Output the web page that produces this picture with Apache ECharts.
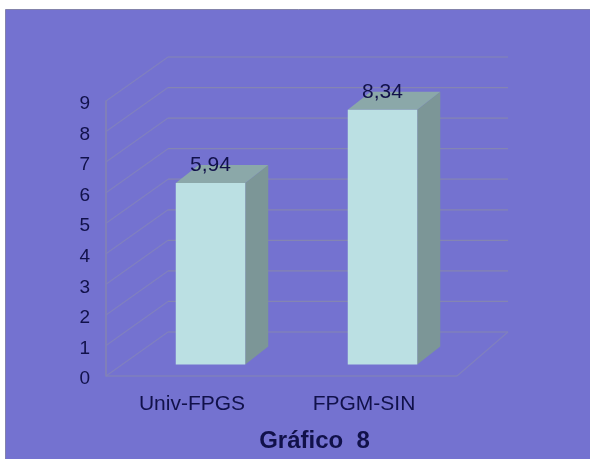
<!DOCTYPE html>
<html>
<head>
<meta charset="utf-8">
<style>html,body{margin:0;padding:0;background:#fff}#chart{width:590px;height:459px}</style>
<script src="https://cdn.jsdelivr.net/npm/echarts@6/dist/echarts.min.js"></script>
</head>
<body>
<div id="chart"></div>
<script>
// Chart content
const categories = ['Univ-FPGS', 'FPGM-SIN'];
const values = [5.94, 8.34];
const yTicks = [0, 1, 2, 3, 4, 5, 6, 7, 8, 9];
const chartTitle = 'Gráfico  8';

// Oblique projection of the pseudo-3D box, in pixels
const WALL_DX = 62, WALL_DY = -44;
const FLOOR_FRONT_EXTRA = 7;
const BACK_WALL_EXTRA = 58;
const BAR_OFFSET_DX = 18.5, BAR_OFFSET_DY = -11.5;
const BAR_DEPTH_DX = 23, BAR_DEPTH_DY = -18;
const BAR_BAND_RATIO = 0.404;

const INK = '#11114a';
const GRID = '#8485b2';
const DIAGONAL = '#8080bf';
const PLATE = '#7472d0';

function poly(points, fill) {
  return { type: 'polygon', shape: { points }, style: { fill, stroke: null } };
}
function seg(x1, y1, x2, y2, stroke) {
  return { type: 'line', shape: { x1, y1, x2, y2 }, style: { stroke, lineWidth: 1.2, fill: null } };
}

// One side-wall diagonal plus one back-wall rule for each tick; floor edges at zero
function renderWall(params, api) {
  const rect = params.coordSys;
  const y = api.coord([0, api.value(0)])[1];
  const xl = rect.x, xr = rect.x + rect.width;
  const children = [
    seg(xl, y, xl + WALL_DX, y + WALL_DY, DIAGONAL),
    seg(xl + WALL_DX, y + WALL_DY, xr + BACK_WALL_EXTRA, y + WALL_DY, GRID)
  ];
  if (api.value(0) === 0) {
    children.push(seg(xl, y, xr + FLOOR_FRONT_EXTRA, y, GRID));
    children.push(seg(xr + FLOOR_FRONT_EXTRA, y, xr + BACK_WALL_EXTRA, y + WALL_DY, DIAGONAL));
  }
  return { type: 'group', children };
}

function renderBar(params, api) {
  const base = api.coord([api.value(0), 0]);
  const top = api.coord([api.value(0), api.value(1)]);
  const w = api.size([1, 0])[0] * BAR_BAND_RATIO;
  const xl = base[0] - w / 2 + BAR_OFFSET_DX;
  const xr = xl + w;
  const yb = base[1] + BAR_OFFSET_DY;
  const yt = top[1] + BAR_OFFSET_DY;
  const dx = BAR_DEPTH_DX, dy = BAR_DEPTH_DY;
  return {
    type: 'group',
    children: [
      poly([[xr, yt], [xr + dx, yt + dy], [xr + dx, yb + dy], [xr, yb]], '#7c9697'),
      poly([[xl, yt], [xl + dx, yt + dy], [xr + dx, yt + dy], [xr, yt]], '#8ba8a9'),
      poly([[xl, yt], [xr, yt], [xr, yb], [xl, yb]], '#bbe0e3'),
      {
        type: 'text',
        style: {
          x: (xl + xr) / 2,
          y: yt - 17.5,
          text: api.value(1).toFixed(2).replace('.', ','),
          fill: INK,
          font: '21px "Liberation Sans", Arial, sans-serif',
          align: 'center',
          verticalAlign: 'middle'
        }
      }
    ]
  };
}

const chart = echarts.init(document.getElementById('chart'), null, { renderer: 'canvas' });
chart.setOption({
  animation: false,
  backgroundColor: '#ffffff',
  textStyle: { fontFamily: '"Liberation Sans", Arial, sans-serif' },
  graphic: [{
    type: 'rect',
    z: -10,
    shape: { x: 5.5, y: 9.5, width: 590, height: 459 },
    style: { fill: PLATE, stroke: '#8383ab', lineWidth: 1 }
  }],
  title: {
    text: chartTitle,
    left: 309.5,
    top: 436,
    textAlign: 'center',
    textVerticalAlign: 'middle',
    textStyle: { color: INK, fontSize: 24, fontWeight: 'bold', fontFamily: '"Liberation Sans", Arial, sans-serif' }
  },
  grid: { left: 106, right: 140, top: 101, bottom: 83 },
  xAxis: {
    type: 'category',
    data: categories,
    axisLine: { show: false },
    axisTick: { show: false },
    axisLabel: { color: INK, fontSize: 21, margin: 18, lineHeight: 21 }
  },
  yAxis: {
    type: 'value',
    min: 0,
    max: 9,
    interval: 1,
    splitLine: { show: false },
    axisTick: { show: false },
    axisLine: { show: true, lineStyle: { color: GRID, width: 1.5 } },
    axisLabel: { color: INK, fontSize: 19, margin: 16, verticalAlign: 'top', lineHeight: 6 }
  },
  series: [
    {
      type: 'custom',
      name: 'wall',
      silent: true,
      z: 1,
      renderItem: renderWall,
      encode: { y: 0 },
      data: yTicks.map(t => [t])
    },
    {
      type: 'custom',
      name: 'values',
      z: 2,
      renderItem: renderBar,
      encode: { x: 0, y: 1 },
      data: values.map((v, i) => [i, v])
    }
  ]
});
</script>
</body>
</html>
